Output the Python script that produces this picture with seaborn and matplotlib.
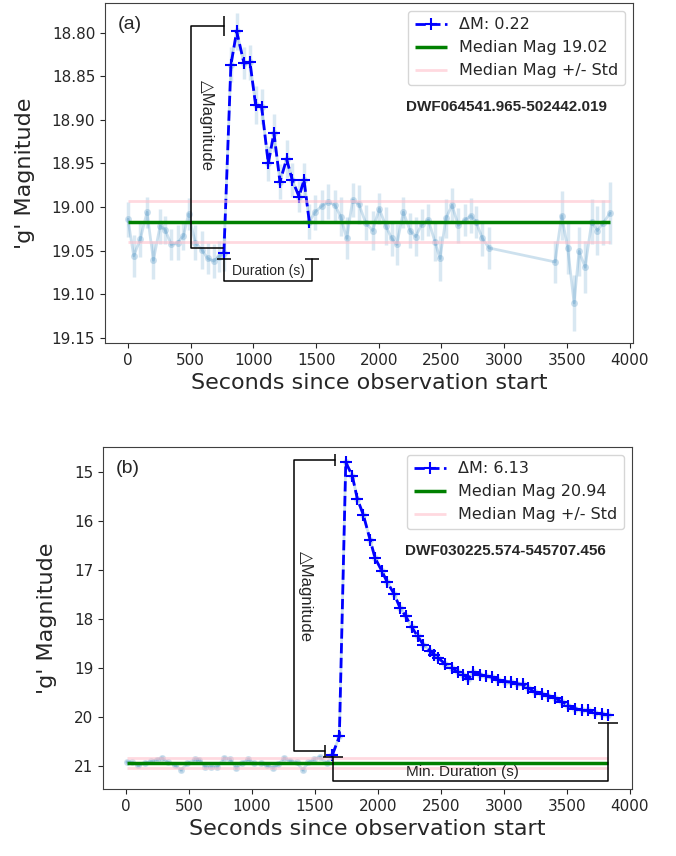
import numpy as np
import matplotlib
matplotlib.use("Agg")
import matplotlib.pyplot as plt
import seaborn as sns

# ---- panel (a): DWF064541.965-502442.019 ----
t_a = np.array([0, 46, 98, 152, 203, 256, 296, 345, 396, 443, 483, 537, 590, 635, 683, 727,
                765, 821, 867, 925, 973, 1018, 1066, 1119, 1164, 1212, 1265, 1310, 1364, 1404, 1446,
                1491, 1545, 1597, 1651, 1696, 1744, 1792, 1842, 1895, 1951,
                2004, 2057, 2103, 2143, 2196, 2249, 2294, 2342, 2395, 2448,
                2488, 2535, 2584, 2634, 2687, 2735, 2775, 2826, 2879, 3405,
                3458, 3506, 3557, 3597, 3645, 3698, 3743, 3791, 3844])
mag_a = np.array([19.014, 19.056, 19.037, 19.006, 19.061, 19.022, 19.026, 19.043, 19.041, 19.033,
                  19.008, 19.041, 19.049, 19.059, 19.062, 19.057,
                  19.053, 18.837, 18.7985, 18.835, 18.834, 18.883, 18.885, 18.950, 18.915, 18.971,
                  18.945, 18.969, 18.988, 18.969, 19.017,
                  19.006, 18.999, 18.994, 18.998, 19.011, 19.036, 18.992, 18.997, 19.018, 19.027,
                  19.002, 19.022, 19.036, 19.043, 19.006, 19.027, 19.034, 19.020, 19.015, 19.040,
                  19.059, 19.013, 18.998, 19.021, 19.015, 19.010, 19.017, 19.036, 19.047, 19.063,
                  19.010, 19.047, 19.110, 19.051, 19.069, 19.017, 19.027, 19.018, 19.007])
err_a = np.array([0.020, 0.024, 0.020, 0.018, 0.022, 0.020, 0.016, 0.018, 0.020, 0.016,
                  0.018, 0.020, 0.022, 0.018, 0.020, 0.018,
                  0.020, 0.020, 0.021, 0.018, 0.020, 0.022, 0.020, 0.020, 0.022, 0.020,
                  0.022, 0.020, 0.018, 0.020, 0.020,
                  0.020, 0.018, 0.020, 0.018, 0.022, 0.024, 0.020, 0.022, 0.020, 0.022,
                  0.018, 0.022, 0.020, 0.024, 0.018, 0.020, 0.022, 0.018, 0.018, 0.022,
                  0.026, 0.022, 0.020, 0.020, 0.018, 0.020, 0.018, 0.020, 0.024, 0.024,
                  0.028, 0.030, 0.032, 0.028, 0.030, 0.026, 0.028, 0.026, 0.036])
flare_a = (765, 1446)
median_a, std_a = 19.017, 0.0235
name_a = "DWF064541.965-502442.019"

# ---- panel (b): DWF030225.574-545707.456 ----
t_b = np.array([5, 50, 98, 151, 196, 243, 283, 336, 389, 437, 487, 548, 582, 627, 675, 725, 778,
                825, 873, 918, 971, 1016, 1069, 1116, 1164, 1209, 1254, 1302, 1354, 1402, 1447,
                1492, 1540, 1593,
                1637, 1693, 1744, 1796, 1836, 1883, 1937, 1976, 2029, 2074, 2127, 2175, 2220,
                2267, 2315, 2360, 2413, 2446, 2479, 2532, 2585, 2637, 2677, 2717, 2756, 2810,
                2855, 2902, 2955, 3008, 3056, 3106, 3153, 3193, 3246, 3299, 3352, 3405, 3458,
                3510, 3563, 3617, 3669, 3722, 3775, 3828])
mag_b = np.array([20.92, 20.93, 20.99, 20.94, 20.91, 20.87, 20.84, 20.93, 20.99, 21.08, 20.95,
                  20.86, 20.87, 21.02, 21.02, 21.02, 20.84, 20.86, 21.04, 20.95, 20.86, 20.95,
                  20.95, 20.99, 21.04, 20.97, 20.84, 20.89, 20.93, 21.08, 20.93, 20.86, 20.82, 20.95,
                  20.78, 20.40, 14.81, 15.09, 15.56, 15.88, 16.39, 16.76, 17.02, 17.26, 17.49,
                  17.78, 17.95, 18.17, 18.36, 18.53, 18.65, 18.73, 18.80, 18.92, 19.00, 19.09,
                  19.14, 19.23, 19.09, 19.14, 19.17, 19.19, 19.24, 19.28, 19.29, 19.33, 19.34,
                  19.41, 19.50, 19.53, 19.57, 19.62, 19.69, 19.77, 19.83, 19.87, 19.87, 19.92,
                  19.94, 19.96])
err_b = 0.04
flare_b = (1637, 3828)
median_b, std_b = 20.94, 0.11
name_b = "DWF030225.574-545707.456"

sns.set_style("ticks")
plt.rcParams["font.family"] = ["DejaVu Sans"]
ANN = ["Liberation Sans", "DejaVu Sans"]

fig = plt.figure(figsize=(6.76, 8.56), dpi=100)
ax_a = fig.add_axes([0.1553, 0.5993, 0.7811, 0.3972])
ax_b = fig.add_axes([0.1524, 0.0783, 0.7825, 0.3995])


def plot_lightcurve(ax, t, mag, err, flare, med, std, name, tag):
    ax.errorbar(t, mag, yerr=err, fmt="none", ecolor="tab:blue", alpha=0.17, elinewidth=2.5)
    sns.lineplot(x=t, y=mag, ax=ax, color="tab:blue", alpha=0.22, marker="o",
                 markersize=5, markeredgewidth=0, linewidth=2, sort=False, estimator=None)
    fl = (t >= flare[0]) & (t <= flare[1])
    sns.lineplot(x=t[fl], y=mag[fl], ax=ax, color="blue", linestyle="--", marker="+",
                 markersize=8, markeredgewidth=1.5, markeredgecolor="blue", linewidth=2,
                 sort=False, estimator=None, label=f"ΔM: {med - mag[fl].min():.2f}")
    ax.hlines(med, t.min(), t.max(), color="green", lw=2.5, label=f"Median Mag {med:.2f}")
    ax.hlines([med - std, med + std], t.min(), t.max(), color="pink", lw=2, alpha=0.6,
              label="Median Mag +/- Std")
    ax.legend(loc="upper right", fontsize=11.5)
    ax.text(0.76, 0.695, name, transform=ax.transAxes, ha="center", va="center",
            fontsize=11, fontweight="bold", family=ANN)
    ax.text(0.025, 0.938, tag, transform=ax.transAxes, ha="left", va="center",
            fontsize=14, family=ANN)
    ax.set_xlabel("Seconds since observation start", fontsize=16)
    ax.set_ylabel("'g' Magnitude", fontsize=16, labelpad=12)
    ax.tick_params(labelsize=11)
    for s in ax.spines.values():
        s.set_color("0.25")


def bracket(ax, xs, ys, tick_pts, tick_marker, tick_size):
    ax.plot(xs, ys, color="k", lw=1.1, clip_on=False, zorder=5)
    tx, ty = zip(*tick_pts)
    ax.plot(tx, ty, ls="none", marker=tick_marker, ms=tick_size, mew=1.1, color="k",
            clip_on=False, zorder=5)


plot_lightcurve(ax_a, t_a, mag_a, err_a, flare_a, median_a, std_a, name_a, "(a)")
ax_a.set_xlim(-183, 4027)
ax_a.set_ylim(19.156, 18.766)
# delta magnitude bracket
bracket(ax_a, [765, 500, 500, 755], [18.792, 18.792, 19.047, 19.047],
        [(765, 18.792)], "|", 14)
ax_a.text(628, 18.906, "△Magnitude", rotation=270, ha="center", va="center",
          fontsize=12, family=ANN)
# duration bracket
bracket(ax_a, [765, 765, 1470, 1470], [19.060, 19.085, 19.085, 19.060],
        [(765, 19.060), (1470, 19.060)], "_", 10)
ax_a.text(1118, 19.073, "Duration (s)", ha="center", va="center", fontsize=10, family=ANN)

plot_lightcurve(ax_b, t_b, mag_b, err_b, flare_b, median_b, std_b, name_b, "(b)")
ax_b.set_xlim(-183, 4016)
ax_b.set_ylim(21.47, 14.50)
bracket(ax_b, [1659, 1333, 1333, 1579], [14.76, 14.76, 20.70, 20.70],
        [(1659, 14.76), (1579, 20.70)], "|", 9)
ax_b.text(1421, 17.55, "△Magnitude", rotation=270, ha="center", va="center",
          fontsize=12, family=ANN)
bracket(ax_b, [1646, 1646, 3828, 3828], [20.82, 21.31, 21.31, 20.12],
        [(1646, 20.82), (3828, 20.12)], "_", 14)
ax_b.text(2667, 21.13, "Min. Duration (s)", ha="center", va="center", fontsize=11, family=ANN)

fig.savefig("out.png", dpi=100)
